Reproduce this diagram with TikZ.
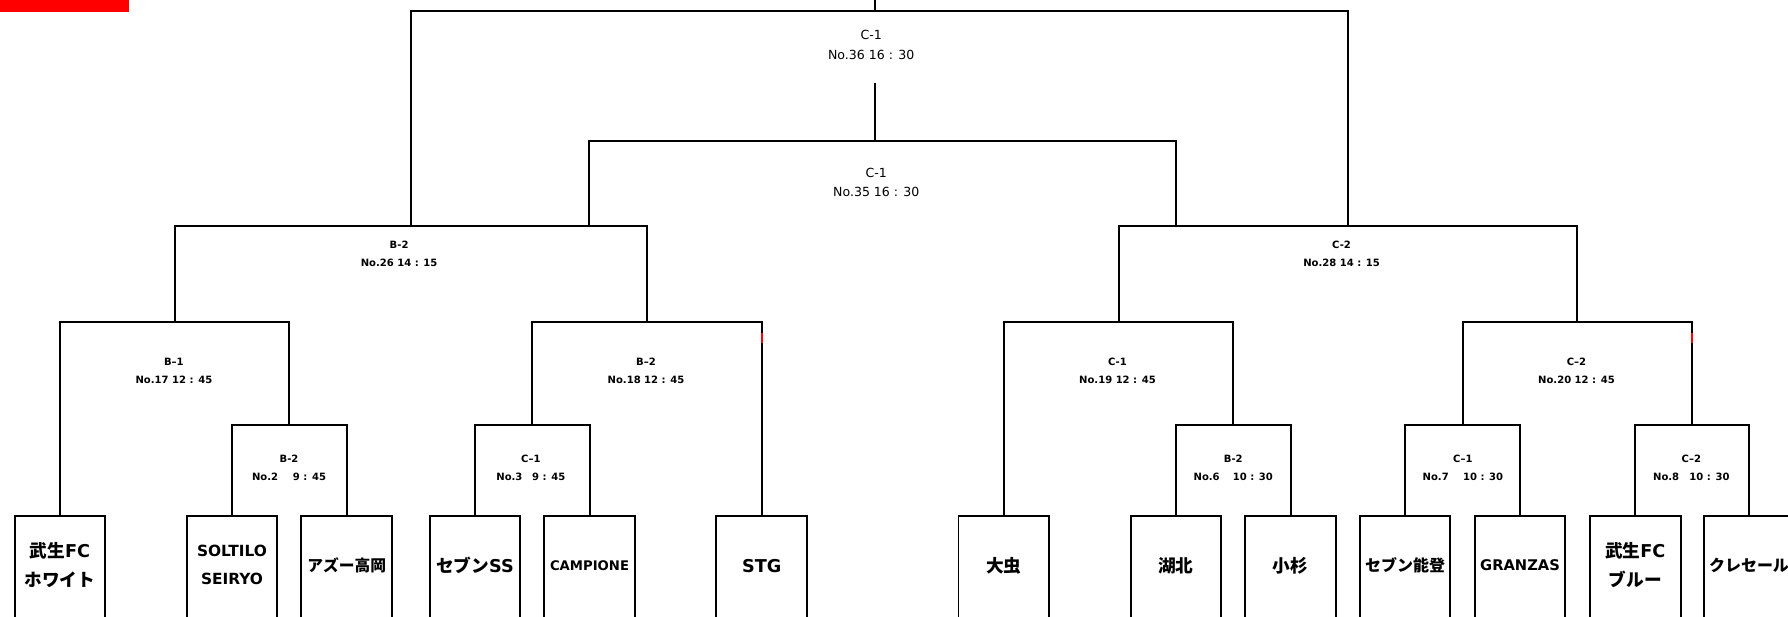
\documentclass[tikz,border=0pt]{standalone}
\usepackage{fontspec}
\setmainfont{DejaVu Sans}
\newfontfamily\jpfont{Noto Sans CJK JP}
\tikzset{
  team/.style={draw, line width=1.75pt, anchor=north, minimum width=79.5pt, minimum height=130pt, inner sep=0pt},
  teamname/.style={align=center, inner sep=0pt, font=\bfseries\fontsize{#1}{24.8}\selectfont},
  teamname/.default=15.5,
  game/.style={align=center, inner sep=0pt, font=\bfseries\fontsize{8.8}{15.5}\selectfont},
  final/.style={align=center, inner sep=0pt, font=\fontsize{11}{17}\selectfont},
  bracket/.style={line width=1.75pt},
}
\begin{document}
\begin{tikzpicture}[x=1pt,y=-1pt]
  \useasboundingbox (0,0) rectangle (1568,541);
  \clip (0,0) rectangle (1568,541);
  \fill[red] (0,0) rectangle (113,10.7);

  \node[team] (T1) at (52.6,452) {};
  \node[team] (T2) at (203.5,452) {};
  \node[team] (T3) at (304,452) {};
  \node[team] (T4) at (416.5,452) {};
  \node[team] (T5) at (517,452) {};
  \node[team] (T6) at (668,452) {};
  \node[team] (T7) at (880.3,452) {};
  \node[team] (T8) at (1031.2,452) {};
  \node[team] (T9) at (1131.7,452) {};
  \node[team] (T10) at (1232.2,452) {};
  \node[team] (T11) at (1333,452) {};
  \node[team] (T12) at (1434,452) {};
  \node[team] (T13) at (1533.8,452) {};

  \node[teamname] (N1) at (52.6,495.5) {{\jpfont 武生}FC\\{\jpfont ホワイト}};
  \node[teamname=13.5] (N2) at (203.5,495.5) {SOLTILO\\SEIRYO};
  \node[teamname=13.8] (N3) at (304,496) {\jpfont アズー高岡};
  \node[teamname] (N4) at (416.5,496) {{\jpfont セブン}SS};
  \node[teamname=11.6] (N5) at (517,496) {CAMPIONE};
  \node[teamname] (N6) at (668,496) {STG};
  \node[teamname] (N7) at (880.3,496) {\jpfont 大虫};
  \node[teamname] (N8) at (1031.2,496) {\jpfont 湖北};
  \node[teamname] (N9) at (1131.7,496) {\jpfont 小杉};
  \node[teamname=14] (N10) at (1232.2,496) {\jpfont セブン能登};
  \node[teamname=12.9] (N11) at (1333,496) {GRANZAS};
  \node[teamname] (N12) at (1434,495.5) {{\jpfont 武生}FC\\{\jpfont ブルー}};
  \node[teamname=14] (N13) at (1533.8,496) {\jpfont クレセール};

  \coordinate (M2) at (253.75,373);
  \coordinate (M3) at (466.75,373);
  \coordinate (M6) at (1081.5,373);
  \coordinate (M7) at (1282.6,373);
  \coordinate (M8) at (1483.9,373);
  \coordinate (M17) at (153.1,282);
  \coordinate (M18) at (567.4,282);
  \coordinate (M19) at (980.9,282);
  \coordinate (M20) at (1383.2,282);
  \coordinate (M26) at (360.2,198.4);
  \coordinate (M28) at (1182,198.4);
  \coordinate (J26) at (516.8,198.4);
  \coordinate (J28) at (1031.3,198.4);
  \coordinate (M35) at (767.2,123.8);
  \coordinate (S35) at (767.2,72.5);
  \coordinate (M36) at (767.2,9.6);
  \coordinate (top) at (767.2,0);

  \draw[bracket] (T2.north) |- (M2) -| (T3.north);
  \draw[bracket] (T4.north) |- (M3) -| (T5.north);
  \draw[bracket] (T8.north) |- (M6) -| (T9.north);
  \draw[bracket] (T10.north) |- (M7) -| (T11.north);
  \draw[bracket] (T12.north) |- (M8) -| (T13.north);
  \draw[bracket] (T1.north) |- (M17) -| (M2);
  \draw[bracket] (M3) |- (M18) -| (T6.north);
  \draw[bracket] (T7.north) |- (M19) -| (M6);
  \draw[bracket] (M7) |- (M20) -| (M8);
  \draw[bracket] (M17) |- (M26) -| (M18);
  \draw[bracket] (M19) |- (M28) -| (M20);
  \draw[bracket] (M26) |- (M36) -| (M28);
  \draw[bracket] (M36) -- (top);
  \draw[bracket] (J26) |- (M35) -| (J28);
  \draw[bracket] (M35) -- (S35);
  \draw[bracket, red] (668,292) -- (668,300.8);
  \draw[bracket, red] (1483.9,292) -- (1483.9,300.8);

  \node[final] (L36) at (764,39.5) {C-1\\No.36 16 : 30};
  \node[final] (L35) at (768.5,160) {C-1\\No.35 16 : 30};
  \node[game] (L26) at (350,222.5) {B-2\\No.26 14 : 15};
  \node[game] (L28) at (1176.5,222.5) {C-2\\No.28 14 : 15};
  \node[game] (L17) at (152.5,325.5) {B–1\\No.17 12 : 45};
  \node[game] (L18) at (566.5,325.5) {B–2\\No.18 12 : 45};
  \node[game] (L19) at (980,325.5) {C-1\\No.19 12 : 45};
  \node[game] (L20) at (1382.5,325.5) {C–2\\No.20 12 : 45};
  \node[game] (L2) at (253.5,410) {B-2\\No.2\hspace{13pt}9 : 45};
  \node[game] (L3) at (465.5,410) {C–1\\No.3\hspace{8.5pt}9 : 45};
  \node[game] (L6) at (1081.5,410) {B-2\\No.6\hspace{11.5pt}10 : 30};
  \node[game] (L7) at (1282.9,410) {C–1\\No.7\hspace{12.5pt}10 : 30};
  \node[game] (L8) at (1483.2,410) {C–2\\No.8\hspace{9pt}10 : 30};
\end{tikzpicture}
\end{document}
